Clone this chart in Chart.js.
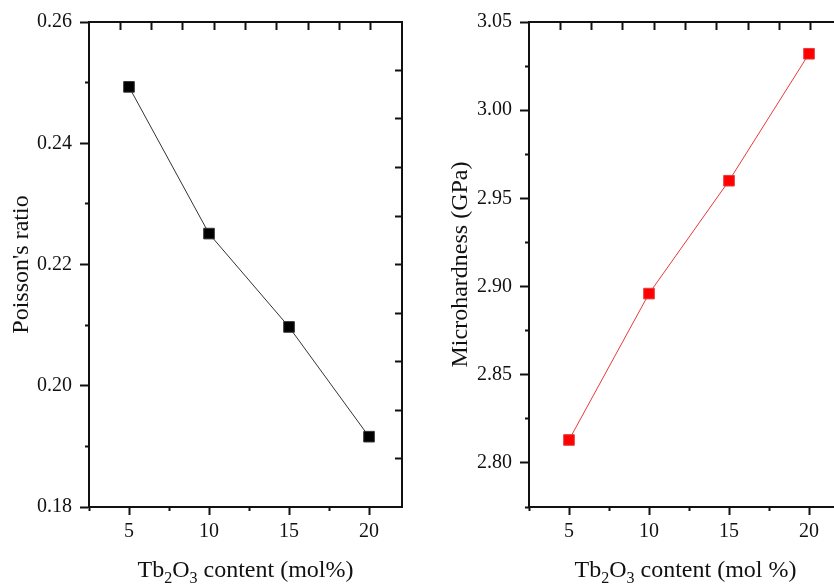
<!DOCTYPE html>
<html>
<head>
<meta charset="utf-8">
<script src="https://cdn.jsdelivr.net/npm/chart.js@4.4.0/dist/chart.umd.min.js"></script>
<style>
  html, body { margin: 0; padding: 0; background: #fff; overflow: hidden; width: 834px; height: 584px; }
  #leftBox { position: absolute; left: 0; top: 0; width: 420px; height: 584px; }
  #rightBox { position: absolute; left: 420px; top: 0; width: 440px; height: 584px; }
</style>
</head>
<body>
<div id="leftBox"><canvas id="poissonChart" width="420" height="584"></canvas></div>
<div id="rightBox"><canvas id="hardnessChart" width="440" height="584"></canvas></div>
<script>
// data
const content = [5, 10, 15, 20];
const poisson = [0.2493, 0.2251, 0.2097, 0.1916];
const hardness = [2.813, 2.896, 2.960, 3.032];

// tick labels / positions
const xMajorTicks = [5, 10, 15, 20];
const xMinorTicks = [2.5, 7.5, 12.5, 17.5];
const poissonMajorTicks = [0.18, 0.20, 0.22, 0.24, 0.26];
const poissonMinorTicks = [0.19, 0.21, 0.23, 0.25];
const hardnessMajorTicks = [2.80, 2.85, 2.90, 2.95, 3.00, 3.05];
const hardnessMinorTicks = [2.775, 2.825, 2.875, 2.925, 2.975, 3.025];
const frameTicks10 = [1, 2, 3, 4, 5, 6, 7, 8, 9];
const frameTicks5 = [1, 2, 3, 4];

const FONT = 'Liberation Serif';
const INK = '#111';

// draws the x title with real subscripts
const subTitlePlugin = {
  id: 'subTitle',
  afterDraw(chart, args, opts) {
    const ctx = chart.ctx;
    const area = chart.chartArea;
    const big = '24px "' + FONT + '"';
    const small = '16px "' + FONT + '"';
    ctx.save();
    ctx.fillStyle = INK;
    ctx.textBaseline = 'alphabetic';
    ctx.textAlign = 'left';
    let total = 0;
    opts.parts.forEach(p => { ctx.font = p[1] ? small : big; total += ctx.measureText(p[0]).width; });
    let x = (area.left + area.right) / 2 - total / 2;
    opts.parts.forEach(p => {
      ctx.font = p[1] ? small : big;
      ctx.fillText(p[0], x, opts.y + (p[1] ? 6 : 0));
      x += ctx.measureText(p[0]).width;
    });
    ctx.restore();
  }
};

function tickList(list) {
  return s => { s.ticks = list.map(v => ({ value: v })); };
}

function makeChart(id, values, color, lineColor, yMin, yMax, yMajor, yMinor, yTitle, yTitlePad, yWidth, rightTicks, rightMax, xTitle) {
  const ctx = document.getElementById(id).getContext('2d');
  return new Chart(ctx, {
    type: 'scatter',
    data: {
      datasets: [{
        data: content.map((c, i) => ({ x: c, y: values[i] })),
        showLine: true,
        borderColor: lineColor,
        borderWidth: 1,
        backgroundColor: color,
        pointBackgroundColor: color,
        pointBorderColor: lineColor,
        pointBorderWidth: 1,
        pointStyle: 'rect',
        pointRadius: 7.5,
        xAxisID: 'x',
        yAxisID: 'y'
      }]
    },
    options: {
      responsive: false,
      animation: false,
      layout: { autoPadding: false, padding: { left: 0, top: 22, right: 18, bottom: 0 } },
      plugins: {
        legend: { display: false },
        tooltip: { enabled: false },
        subTitle: { parts: xTitle, y: 577 }
      },
      scales: {
        x: {
          type: 'linear', position: 'bottom', weight: 1, min: 2.5, max: 22.06,
          afterBuildTicks: tickList(xMajorTicks),
          afterFit: s => { s.height = 77; },
          grid: { drawOnChartArea: false, tickLength: 8, tickWidth: 2, tickColor: INK },
          border: { color: INK, width: 2 },
          ticks: { padding: 5, color: INK, maxRotation: 0, autoSkip: false, font: { family: FONT, size: 20 },
                   callback: v => String(v) }
        },
        xMinor: {
          type: 'linear', position: 'bottom', weight: 0, min: 2.5, max: 22.06,
          afterBuildTicks: tickList(xMinorTicks),
          afterFit: s => { s.height = 0; },
          grid: { drawOnChartArea: false, tickLength: 4, tickWidth: 2, tickColor: INK },
          border: { display: false },
          ticks: { display: false }
        },
        xTop: {
          type: 'linear', position: 'top', min: 0, max: 10,
          afterBuildTicks: tickList(frameTicks10),
          afterFit: s => { s.height = 0; },
          grid: { drawOnChartArea: false, tickLength: -8, tickWidth: 2, tickColor: INK },
          border: { color: INK, width: 2 },
          ticks: { display: false }
        },
        y: {
          type: 'linear', position: 'left', weight: 1, min: yMin, max: yMax,
          afterBuildTicks: tickList(yMajor),
          afterFit: s => { s.width = yWidth; },
          grid: { drawOnChartArea: false, tickLength: 9, tickWidth: 2, tickColor: INK },
          border: { color: INK, width: 2 },
          title: { display: true, text: yTitle, color: INK, padding: { top: yTitlePad, bottom: 0 },
                   font: { family: FONT, size: 24, lineHeight: 1.2 } },
          ticks: { padding: 8, color: INK, autoSkip: false, font: { family: FONT, size: 20 },
                   callback: v => v.toFixed(2) }
        },
        yMinor: {
          type: 'linear', position: 'left', weight: 0, min: yMin, max: yMax,
          afterBuildTicks: tickList(yMinor),
          afterFit: s => { s.width = 0; },
          grid: { drawOnChartArea: false, tickLength: 4, tickWidth: 2, tickColor: INK },
          border: { display: false },
          ticks: { display: false }
        },
        yRight: {
          type: 'linear', position: 'right', min: 0, max: rightMax,
          afterBuildTicks: tickList(rightTicks),
          afterFit: s => { s.width = 0; },
          grid: { drawOnChartArea: false, tickLength: -7, tickWidth: 2, tickColor: INK },
          border: { color: INK, width: 2 },
          ticks: { display: false }
        }
      }
    },
    plugins: [subTitlePlugin]
  });
}

makeChart('poissonChart', poisson, '#000000', '#333333', 0.18, 0.26,
  poissonMajorTicks, poissonMinorTicks, "Poisson's ratio", 7, 89, frameTicks10, 10,
  [['Tb', false], ['2', true], ['O', false], ['3', true], [' content (mol%)', false]]);

makeChart('hardnessChart', hardness, '#ff0000', '#e83a3a', 2.775, 3.05,
  hardnessMajorTicks, hardnessMinorTicks, 'Microhardness (GPa)', 26, 109, frameTicks5, 5,
  [['Tb', false], ['2', true], ['O', false], ['3', true], [' content (mol %)', false]]);
</script>
</body>
</html>
